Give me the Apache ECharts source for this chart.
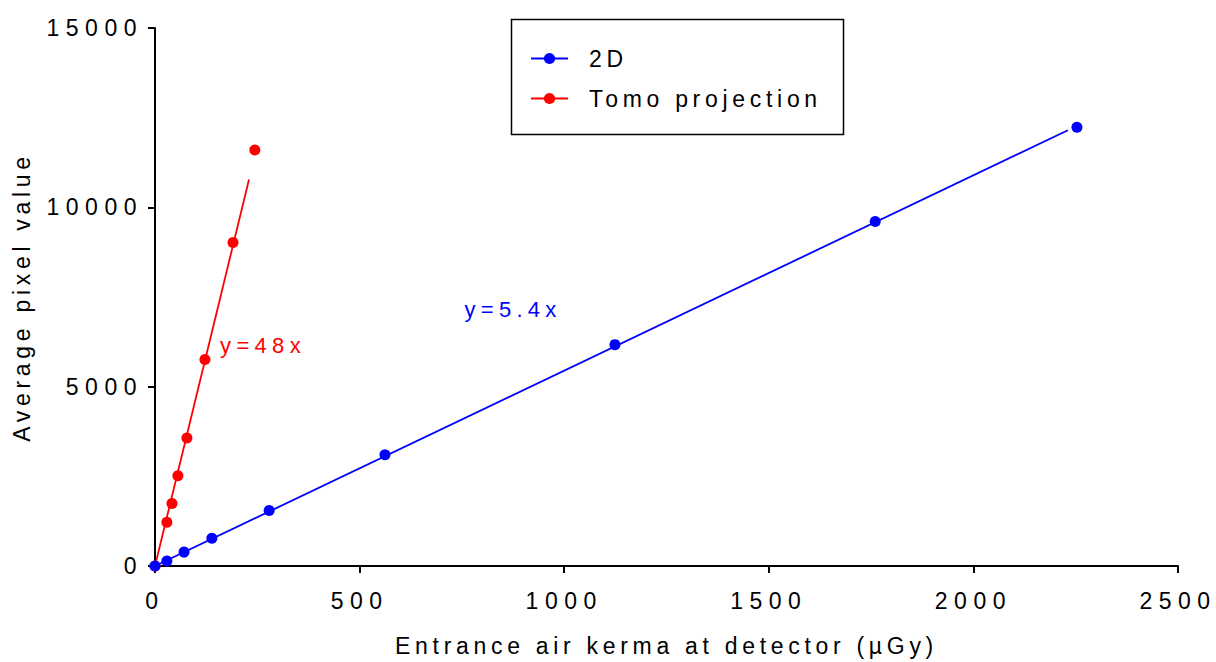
<!DOCTYPE html>
<html><head><meta charset="utf-8">
<script src="https://cdn.jsdelivr.net/npm/echarts@6/dist/echarts.min.js"></script>
<style>html,body{margin:0;padding:0;background:#fff}#c{width:1216px;height:662px}</style>
</head><body><div id="c"></div>
<script>
// ---- data ----
const xTicks = [0, 500, 1000, 1500, 2000, 2500];
const yTicks = [0, 5000, 10000, 15000];
const seriesNames = ['2D', 'Tomo projection'];
const kerma2D = [0, 29, 71, 139, 279, 562, 1124, 1760, 2253];
const pixel2D = [0, 138, 387, 775, 1550, 3100, 6172, 9604, 12233];
const kermaTomo = [0, 29, 41.5, 56, 78, 122, 190.6, 244];
const pixelTomo = [0, 1218, 1744, 2519, 3570, 5757, 9022, 11596];
const fit2DX = [0, 2231];
const fit2DY = [0, 12150];
const fitTomoX = [0, 229.7];
const fitTomoY = [0, 10774];
const fitLabels = ['y=5.4x', 'y=48x'];
const fitLabelAt2D = [875, 7140];
const fitLabelAtTomo = [264, 6144];
const xName = 'Entrance air kerma at detector (µGy)';
const yName = 'Average pixel value';

const FONT = "'Liberation Sans', Arial, sans-serif";
const FS = 23;
const BLUE = '#0000ff', RED = '#ff0000';
const zip = (a, b) => a.map((v, i) => [v, b[i]]);

const chart = echarts.init(document.getElementById('c'), null, {renderer: 'svg'});

function fitSeries(name, xs, ys, color, labelAt, label, z) {
  return {
    name: name, type: 'line', data: zip(xs, ys), showSymbol: false, symbol: 'circle',
    lineStyle: {color: color, width: 1.8}, itemStyle: {color: color}, z: z,
    silent: true,
    markPoint: {
      symbol: 'circle', symbolSize: 0, silent: true,
      data: [{coord: labelAt, value: label}],
      label: {show: true, position: 'inside', formatter: label, color: color,
        fontSize: 22, fontFamily: FONT}
    }
  };
}
function dotSeries(name, xs, ys, color, z) {
  return {
    name: name, type: 'scatter', data: zip(xs, ys), symbol: 'circle', symbolSize: 11,
    itemStyle: {color: color, opacity: 1}, z: z
  };
}

const axisCommon = {
  type: 'value',
  axisLine: {show: true, lineStyle: {color: '#000', width: 2}},
  axisTick: {show: true, length: 7, lineStyle: {color: '#000', width: 2}},
  splitLine: {show: false},
  nameLocation: 'middle',
  nameTextStyle: {fontSize: FS, color: '#000', fontFamily: FONT},
};
const plainNum = v => String(v);

chart.setOption({
  animation: false,
  backgroundColor: '#fff',
  grid: {left: 155, right: 38, top: 28, bottom: 92, containLabel: false},
  xAxis: Object.assign({}, axisCommon, {
    min: xTicks[0], max: xTicks[xTicks.length - 1], interval: xTicks[1] - xTicks[0],
    name: xName, nameGap: 68,
    axisLabel: {fontSize: FS, color: '#000', fontFamily: FONT, margin: 23, formatter: plainNum}
  }),
  yAxis: Object.assign({}, axisCommon, {
    min: yTicks[0], max: yTicks[yTicks.length - 1], interval: yTicks[1] - yTicks[0],
    name: yName, nameGap: 122,
    axisLabel: {fontSize: FS, color: '#000', fontFamily: FONT, margin: 12, formatter: plainNum}
  }),
  legend: {
    data: seriesNames.map(n => ({name: n})),
    orient: 'vertical', left: 530, top: 47, padding: 0,
    itemWidth: 37, itemHeight: 14, itemGap: 17,
    textStyle: {fontSize: FS, color: '#000', fontFamily: FONT, lineHeight: 23, padding: [0, 0, 0, 16]},
    selectedMode: false
  },
  graphic: [{
    type: 'rect', left: 509, top: 17, silent: true,
    shape: {width: 332, height: 115},
    style: {fill: 'none', stroke: '#000', lineWidth: 1.5}
  }],
  series: [
    fitSeries(seriesNames[0], fit2DX, fit2DY, BLUE, fitLabelAt2D, fitLabels[0], 3),
    dotSeries(seriesNames[0], kerma2D, pixel2D, BLUE, 4),
    fitSeries(seriesNames[1], fitTomoX, fitTomoY, RED, fitLabelAtTomo, fitLabels[1], 1),
    dotSeries(seriesNames[1], kermaTomo, pixelTomo, RED, 2)
  ]
});

function spaceText() {
  document.querySelectorAll('#c svg text').forEach(t => {
    const s = t.textContent;
    let sp = 4.7;
    if (/^[0-9]+$/.test(s)) sp = 6.5;
    else if (/^y=/.test(s)) sp = 5.3;
    t.setAttribute('letter-spacing', sp + 'px');
  });
}
spaceText();
chart.on('finished', spaceText);
</script>
</body></html>
